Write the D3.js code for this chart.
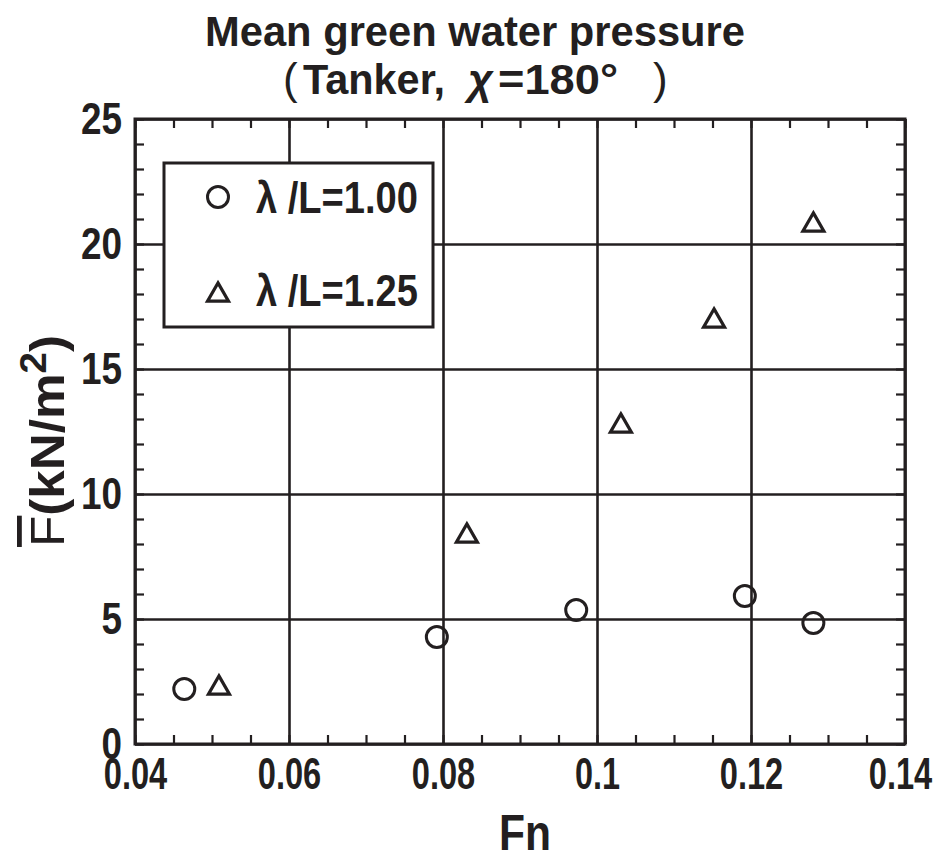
<!DOCTYPE html>
<html><head><meta charset="utf-8">
<script src="https://cdn.jsdelivr.net/npm/d3@7"></script>
<style>
body{margin:0;background:#fff;}
text{font-family:"Liberation Sans",Arial,sans-serif;font-weight:bold;fill:#231f20;}
</style></head>
<body>
<svg id="c" width="938" height="861"></svg>
<script>
// ---- data ----
const seriesNames = ["λ /L=1.00", "λ /L=1.25"];
const fnCircle = [0.0464, 0.0792, 0.0973, 0.1192, 0.1281];
const fCircle  = [2.20, 4.28, 5.36, 5.92, 4.84];
const fnTriangle = [0.0509, 0.0831, 0.1031, 0.1152, 0.1281];
const fTriangle  = [2.36, 8.44, 12.84, 17.04, 20.88];
const xTicks = [0.04, 0.06, 0.08, 0.10, 0.12, 0.14];
const xTickLabels = ["0.04", "0.06", "0.08", "0.1", "0.12", "0.14"];
const yTicks = [0, 5, 10, 15, 20, 25];
const yTickLabels = ["0", "5", "10", "15", "20", "25"];

const ink = "#231f20";
const svg = d3.select("#c");
const L = 135, R = 905, T = 119, B = 744;
const x = d3.scaleLinear().domain([0.04, 0.14]).range([L, R]);
const y = d3.scaleLinear().domain([0, 25]).range([B, T]);

const xMinor = d3.range(0, 21).map(i => 0.04 + i * 0.005);
const yMinor = d3.range(0, 26);
const labelLen = (s, dw) => s.split("").reduce((a, c) => a + (c === "." ? 8 : dw), 0);

// grid lines
svg.append("g").attr("transform", `translate(0,${B})`)
  .call(d3.axisBottom(x).tickValues(xTicks).tickSize(-(B - T)).tickFormat(""))
  .call(g => g.select(".domain").remove())
  .call(g => g.selectAll("line").attr("stroke", ink).attr("stroke-width", 2.6));
svg.append("g").attr("transform", `translate(${L},0)`)
  .call(d3.axisLeft(y).tickValues(yTicks).tickSize(-(R - L)).tickFormat(""))
  .call(g => g.select(".domain").remove())
  .call(g => g.selectAll("line").attr("stroke", ink).attr("stroke-width", 2.6));

// minor inward ticks on all four sides
const tk = 9;
function ticks(axis, tr) {
  svg.append("g").attr("transform", tr).call(axis)
    .call(g => g.select(".domain").remove())
    .call(g => g.selectAll("line").attr("stroke", ink).attr("stroke-width", 2.2));
}
ticks(d3.axisBottom(x).tickValues(xMinor).tickSize(-tk).tickFormat(""), `translate(0,${B})`);
ticks(d3.axisTop(x).tickValues(xMinor).tickSize(-tk).tickFormat(""), `translate(0,${T})`);
ticks(d3.axisLeft(y).tickValues(yMinor).tickSize(-tk).tickFormat(""), `translate(${L},0)`);
ticks(d3.axisRight(y).tickValues(yMinor).tickSize(-tk).tickFormat(""), `translate(${R},0)`);

// frame
svg.append("rect").attr("x", L).attr("y", T).attr("width", R - L).attr("height", B - T)
  .attr("fill", "none").attr("stroke", ink).attr("stroke-width", 3);

// tick labels
svg.append("g").attr("transform", `translate(0,${B})`)
  .call(d3.axisBottom(x).tickValues(xTicks).tickSize(0).tickPadding(13)
    .tickFormat((d, i) => xTickLabels[i]))
  .call(g => g.select(".domain").remove())
  .call(g => g.selectAll("text").attr("font-size", 45).style("font-family", "'Liberation Sans',Arial,sans-serif")
     .style("font-weight", "bold").attr("fill", ink).attr("textLength", (d, i) => labelLen(xTickLabels[i], 18.5))
     .attr("lengthAdjust", "spacingAndGlyphs")
     .attr("dx", (d, i) => i === xTicks.length - 1 ? -5 : 0));
svg.append("g").attr("transform", `translate(${L},0)`)
  .call(d3.axisLeft(y).tickValues(yTicks).tickSize(0).tickPadding(13)
    .tickFormat((d, i) => yTickLabels[i]))
  .call(g => g.select(".domain").remove())
  .call(g => g.selectAll("text").attr("font-size", 44).style("font-family", "'Liberation Sans',Arial,sans-serif")
     .style("font-weight", "bold").attr("fill", ink).attr("dy", "0.34em")
     .attr("textLength", (d, i) => labelLen(yTickLabels[i], 20.5))
     .attr("lengthAdjust", "spacingAndGlyphs"));

// legend box
svg.append("rect").attr("x", 164).attr("y", 163).attr("width", 269).attr("height", 164)
  .attr("fill", "#fff").attr("stroke", ink).attr("stroke-width", 3);

// markers
const triPath = (s) => { const h = s * 0.87; return `M0,${-h/2}L${s/2},${h/2}L${-s/2},${h/2}Z`; };
const circ = fnCircle.map((v, i) => ({ fn: v, f: fCircle[i] }));
const tri = fnTriangle.map((v, i) => ({ fn: v, f: fTriangle[i] }));
svg.append("g").selectAll("circle").data(circ).join("circle")
  .attr("cx", d => x(d.fn)).attr("cy", d => y(d.f)).attr("r", 10.5)
  .attr("fill", "none").attr("stroke", ink).attr("stroke-width", 3);
svg.append("g").selectAll("path").data(tri).join("path")
  .attr("transform", d => `translate(${x(d.fn)},${y(d.f)})`).attr("d", triPath(21))
  .attr("fill", "none").attr("stroke", ink).attr("stroke-width", 3.2).attr("stroke-linejoin", "miter");

// legend entries
svg.append("circle").attr("cx", 218).attr("cy", 197).attr("r", 10.5)
  .attr("fill", "none").attr("stroke", ink).attr("stroke-width", 3);
svg.append("path").attr("transform", "translate(218,292)").attr("d", triPath(21))
  .attr("fill", "none").attr("stroke", ink).attr("stroke-width", 3.2);
svg.append("text").attr("x", 256).attr("y", 213).attr("font-size", 44)
  .attr("textLength", 162).attr("lengthAdjust", "spacingAndGlyphs").text(seriesNames[0]);
svg.append("text").attr("x", 256).attr("y", 306).attr("font-size", 44)
  .attr("textLength", 162).attr("lengthAdjust", "spacingAndGlyphs").text(seriesNames[1]);

// title
svg.append("text").attr("x", 205).attr("y", 46).attr("font-size", 43)
  .attr("textLength", 540).attr("lengthAdjust", "spacingAndGlyphs").text("Mean green water pressure");
svg.append("text").attr("x", 283).attr("y", 94).attr("font-size", 44).style("font-weight", "normal").text("(");
svg.append("text").attr("x", 303).attr("y", 94).attr("font-size", 43)
  .attr("textLength", 142).attr("lengthAdjust", "spacingAndGlyphs").text("Tanker,");
svg.append("text").attr("x", 468).attr("y", 94).attr("font-size", 43).style("font-style", "italic").text("χ");
svg.append("text").attr("x", 498).attr("y", 94).attr("font-size", 43)
  .attr("textLength", 120).attr("lengthAdjust", "spacingAndGlyphs").text("=180°");
svg.append("text").attr("x", 653).attr("y", 94).attr("font-size", 44).style("font-weight", "normal").text(")");

// x axis title
svg.append("text").attr("x", 525).attr("y", 850).attr("text-anchor", "middle").attr("font-size", 50)
  .attr("textLength", 52).attr("lengthAdjust", "spacingAndGlyphs").text("Fn");

// y axis title
const yl = svg.append("text").attr("transform", "translate(64,441) rotate(-90)")
  .attr("text-anchor", "middle").attr("font-size", 48).style("font-weight", "bold")
  .attr("textLength", 212).attr("lengthAdjust", "spacingAndGlyphs");
yl.append("tspan").style("text-decoration", "overline").style("font-weight", "normal").text("F");
yl.append("tspan").text("(kN/m");
yl.append("tspan").attr("dy", -18).attr("font-size", 36).text("2");
yl.append("tspan").attr("dy", 18).text(")");
</script>
</body></html>
